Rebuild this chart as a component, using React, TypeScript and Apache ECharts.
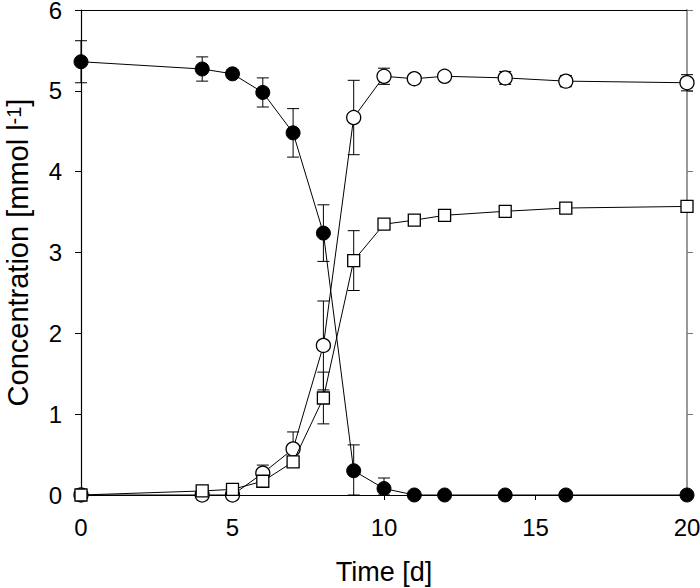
import React, { useEffect, useRef } from "react";
import * as echarts from "echarts";

const days = [0, 4, 5, 6, 7, 8, 9, 10, 11, 12, 14, 16, 20];
const substrate = [5.36, 5.27, 5.21, 4.98, 4.48, 3.24, 0.3, 0.08, 0, 0, 0, 0, 0];
const substrateErr = [0.26, 0.15, 0.05, 0.18, 0.3, 0.35, 0.32, 0.13, 0, 0, 0, 0, 0];
const productA = [0, 0, 0, 0.27, 0.57, 1.85, 4.67, 5.18, 5.15, 5.18, 5.16, 5.12, 5.1];
const productAErr = [0, 0, 0, 0.1, 0.21, 0.55, 0.46, 0.1, 0, 0, 0.08, 0.07, 0.1];
const productB = [0, 0.05, 0.07, 0.17, 0.41, 1.2, 2.9, 3.35, 3.4, 3.46, 3.51, 3.55, 3.57];
const productBErr = [0, 0, 0, 0, 0.05, 0.32, 0.37, 0, 0, 0, 0, 0, 0];

const FONT = "Liberation Sans, Arial, sans-serif";

function pairs(ys: number[]) {
  return days.map((d, i) => [d, ys[i]]);
}
function errData(ys: number[], es: number[]) {
  return days.map((d, i) => [d, ys[i], es[i]]).filter((r) => r[2] > 0);
}

function errSeries(ys: number[], es: number[]) {
  return {
    type: "custom",
    xAxisIndex: 0,
    yAxisIndex: 0,
    z: 1,
    silent: true,
    data: errData(ys, es),
    renderItem: (params: any, api: any) => {
      const x = api.value(0);
      const y = api.value(1);
      const e = api.value(2);
      const top = api.coord([x, y + e]);
      const bot = api.coord([x, Math.max(0, y - e)]);
      const hw = 6;
      const style = { stroke: "#000", lineWidth: 1 };
      return {
        type: "group",
        children: [
          { type: "line", shape: { x1: top[0], y1: top[1], x2: bot[0], y2: bot[1] }, style },
          { type: "line", shape: { x1: top[0] - hw, y1: top[1], x2: top[0] + hw, y2: top[1] }, style },
          { type: "line", shape: { x1: bot[0] - hw, y1: bot[1], x2: bot[0] + hw, y2: bot[1] }, style },
        ],
      };
    },
  };
}

export default function App() {
  const ref = useRef<HTMLDivElement>(null);
  useEffect(() => {
    if (!ref.current) return;
    const chart = echarts.init(ref.current, undefined, { renderer: "svg" });
    const lineStyle = { color: "#000", width: 1 };
    chart.setOption({
      animation: false,
      backgroundColor: "#fff",
      grid: { left: 81, right: 13, top: 10, bottom: 93, containLabel: false, outerBoundsMode: "none" },
      xAxis: [
        {
          type: "value",
          min: 0,
          max: 20,
          interval: 5,
          name: "Time [d]",
          nameLocation: "middle",
          nameGap: 63,
          nameTextStyle: { fontFamily: FONT, fontSize: 27, color: "#000" },
          axisLine: { show: true, lineStyle: { color: "#000", width: 1.2 } },
          axisTick: { show: true, inside: false, length: 5, lineStyle: { color: "#000" } },
          axisLabel: { fontFamily: FONT, fontSize: 24, color: "#000", margin: 20 },
          splitLine: { show: false },
        },
        {
          type: "value",
          position: "top",
          min: 0,
          max: 20,
          interval: 5,
          axisLine: { show: true, onZero: false, lineStyle: { color: "#000", width: 1.2 } },
          axisTick: { show: false },
          axisLabel: { show: false },
          splitLine: { show: false },
        },
      ],
      yAxis: [
        {
          type: "value",
          min: 0,
          max: 6,
          interval: 1,
          name: "Concentration [mmol l{sup|-1}]",
          nameLocation: "middle",
          nameGap: 44,
          nameTextStyle: {
            fontFamily: FONT,
            fontSize: 29,
            color: "#000",
            rich: {
              sup: { fontFamily: FONT, fontSize: 20, color: "#000", verticalAlign: "top", lineHeight: 29, padding: [0, 0, 14, 0] },
            },
          },
          axisLine: { show: true, lineStyle: { color: "#000", width: 1.2 } },
          axisTick: { show: true, inside: false, length: 6, lineStyle: { color: "#000" } },
          axisLabel: { fontFamily: FONT, fontSize: 24, lineHeight: 18, color: "#000", margin: 19 },
          splitLine: { show: false },
        },
        {
          type: "value",
          position: "right",
          min: 0,
          max: 6,
          interval: 1,
          axisLine: { show: true, onZero: false, lineStyle: { color: "#999", width: 2 } },
          axisTick: { show: true, inside: false, length: 6, lineStyle: { color: "#777" } },
          axisLabel: { show: false },
          splitLine: { show: false },
        },
      ],
      series: [
        errSeries(substrate, substrateErr),
        errSeries(productA, productAErr),
        errSeries(productB, productBErr),
        {
          type: "line",
          xAxisIndex: 0,
          yAxisIndex: 0,
          z: 3,
          data: pairs(substrate),
          symbol: "circle",
          symbolSize: 14,
          lineStyle,
          itemStyle: { color: "#000", borderColor: "#000", borderWidth: 1 },
        },
        {
          type: "line",
          xAxisIndex: 0,
          yAxisIndex: 0,
          z: 4,
          data: pairs(productA),
          symbol: "circle",
          symbolSize: 14,
          lineStyle,
          itemStyle: { color: "#fff", borderColor: "#000", borderWidth: 1.3 },
        },
        {
          type: "line",
          xAxisIndex: 0,
          yAxisIndex: 0,
          z: 5,
          data: pairs(productB),
          symbol: "rect",
          symbolSize: 12,
          lineStyle,
          itemStyle: { color: "#fff", borderColor: "#000", borderWidth: 1.3 },
        },
      ],
    });
    return () => chart.dispose();
  }, []);
  return <div ref={ref} style={{ width: 700, height: 588, position: "absolute", left: 0, top: 0 }} />;
}
